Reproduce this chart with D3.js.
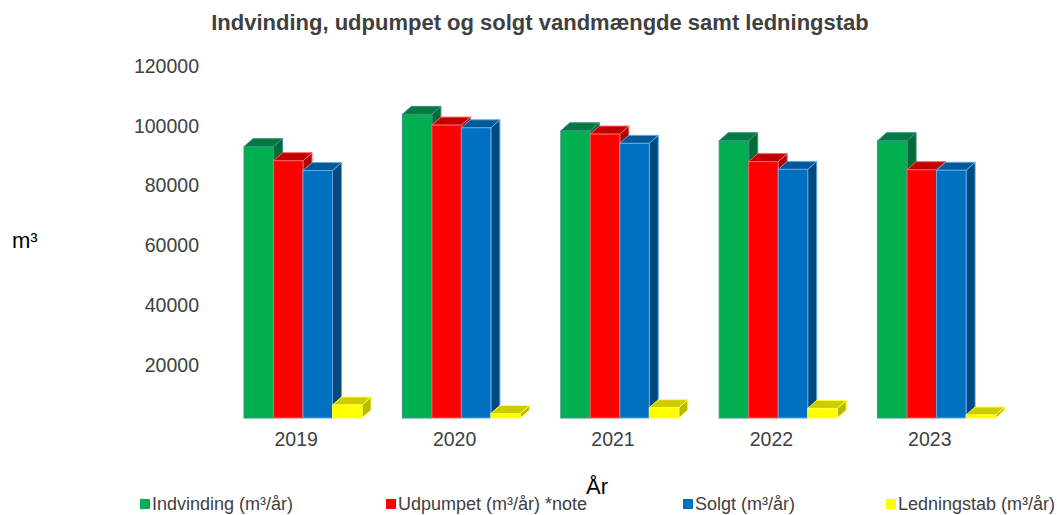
<!DOCTYPE html>
<html>
<head>
<meta charset="utf-8">
<script src="https://cdn.jsdelivr.net/npm/d3@7"></script>
<style>
  body { margin: 0; background: #fff; }
  text { font-family: "Liberation Sans", Arial, sans-serif; }
</style>
</head>
<body>
<script>
var width = 1057;
var height = 515;

// data
var years = ["2019", "2020", "2021", "2022", "2023"];
var seriesNames = ["Indvinding (m³/år)", "Udpumpet (m³/år) *note", "Solgt (m³/år)", "Ledningstab (m³/år)"];
var indvinding = [90700, 101500, 96000, 92700, 92700];
var udpumpet = [86000, 97900, 94900, 85700, 83000];
var solgt = [82700, 97000, 91800, 83100, 82800];
var ledningstab = [4350, 1500, 3450, 3200, 1000];
var yTicks = [20000, 40000, 60000, 80000, 100000, 120000];

var seriesValues = [indvinding, udpumpet, solgt, ledningstab];

// front, top, side, edge
var colors = [
  ["#00B050", "#007A3E", "#006B36", "#3A8F8F"],
  ["#FF0000", "#C00000", "#B00000", "#FF6060"],
  ["#0070C0", "#005A9A", "#004A80", "#5FA8E8"],
  ["#FFFF00", "#CCCC00", "#B8B800", "#FFFF40"]
];

var DX = 9, DY = 8;

var svg = d3.select("body").append("svg")
    .attr("width", width)
    .attr("height", height);

var x = d3.scaleBand().domain(years).range([217, 1009]);
var xInner = d3.scaleBand().domain(d3.range(4)).range([27, 145]);
var y = d3.scaleLinear().domain([0, 120000]).range([418, 59]);

// title
svg.append("text")
    .attr("x", 540)
    .attr("y", 30)
    .attr("text-anchor", "middle")
    .attr("font-size", "22px")
    .attr("font-weight", "bold")
    .attr("fill", "#404040")
    .text("Indvinding, udpumpet og solgt vandmængde samt ledningstab");

// y axis labels (no line, no ticks)
var yAxis = d3.axisLeft(y).tickValues(yTicks).tickFormat(d3.format("d")).tickSize(0).tickPadding(0);
var yg = svg.append("g").attr("transform", "translate(199,7)").call(yAxis);
yg.select(".domain").remove();
yg.selectAll("text").attr("font-size", "19.5px").attr("fill", "#404040").attr("font-family", "Liberation Sans, Arial, sans-serif");

var xAxis = d3.axisBottom(x).tickSize(0).tickPadding(0);
var xg = svg.append("g").attr("transform", "translate(0,432)").call(xAxis);
xg.select(".domain").remove();
xg.selectAll("text").attr("font-size", "19.5px").attr("fill", "#404040").attr("font-family", "Liberation Sans, Arial, sans-serif");

svg.append("text")
    .attr("x", 12).attr("y", 248)
    .attr("font-size", "22px").attr("fill", "#000")
    .text("m³");

svg.append("text")
    .attr("x", 597).attr("y", 494)
    .attr("text-anchor", "middle")
    .attr("font-size", "22px").attr("fill", "#000")
    .text("År");

// 3D bars
var bars = [];
years.forEach(function(yr, i) {
  seriesValues.forEach(function(vals, s) {
    bars.push({year: yr, s: s, v: vals[i]});
  });
});

var g = svg.append("g");
bars.forEach(function(b) {
  var x0 = x(b.year) + xInner(b.s);
  var w = xInner.bandwidth();
  var top = y(b.v);
  var bottom = y(0);
  var c = colors[b.s];
  var bar = g.append("g");
  // side face
  bar.append("path")
      .attr("d", "M" + (x0 + w) + "," + top + "L" + (x0 + w + DX) + "," + (top - DY) +
                 "L" + (x0 + w + DX) + "," + (bottom - DY) + "L" + (x0 + w) + "," + bottom + "Z")
      .attr("fill", c[2]).attr("stroke", c[3]).attr("stroke-width", 1);
  // top face
  bar.append("path")
      .attr("d", "M" + x0 + "," + top + "L" + (x0 + DX) + "," + (top - DY) +
                 "L" + (x0 + w + DX) + "," + (top - DY) + "L" + (x0 + w) + "," + top + "Z")
      .attr("fill", c[1]).attr("stroke", c[3]).attr("stroke-width", 1);
  // front face
  bar.append("rect")
      .attr("x", x0).attr("y", top)
      .attr("width", w).attr("height", bottom - top)
      .attr("fill", c[0]).attr("stroke", c[3]).attr("stroke-width", 1);
});

// legend
var legendX = [140, 386, 683, 886];
var legend = svg.append("g");
seriesNames.forEach(function(name, s) {
  legend.append("rect")
      .attr("x", legendX[s]).attr("y", 499)
      .attr("width", 10).attr("height", 10)
      .attr("fill", colors[s][0]);
  legend.append("text")
      .attr("x", legendX[s] + 12).attr("y", 510)
      .attr("font-size", "18px").attr("fill", "#404040")
      .text(name);
});
</script>
</body>
</html>
